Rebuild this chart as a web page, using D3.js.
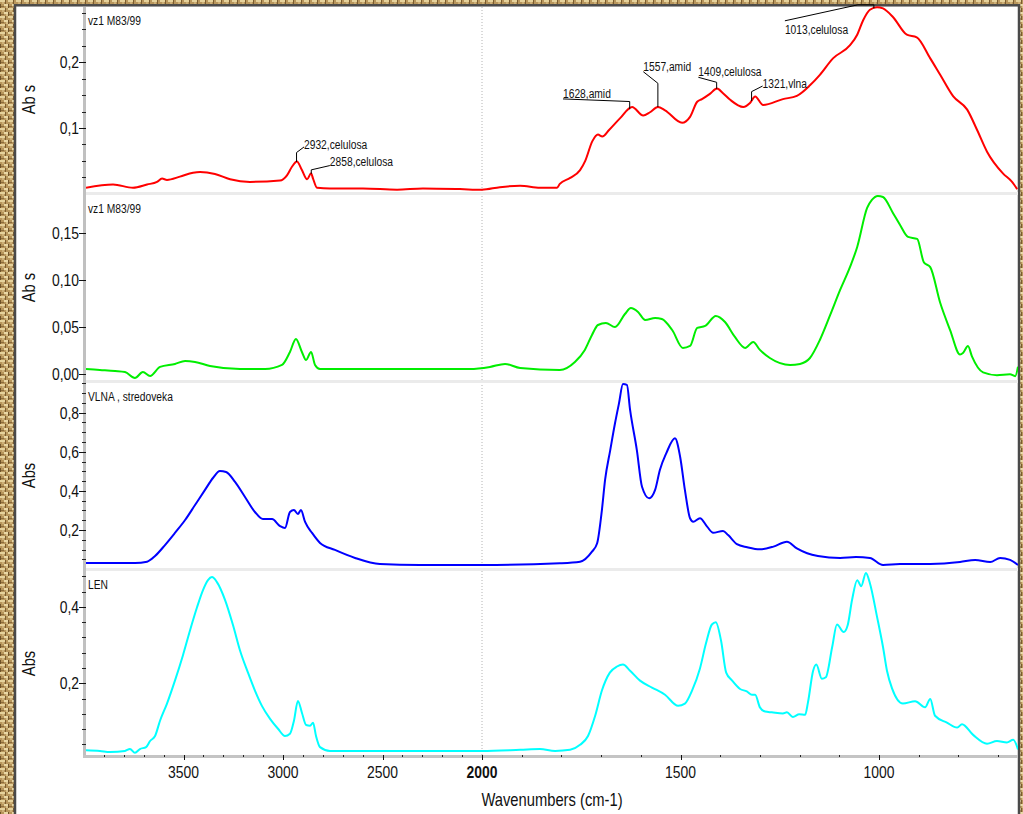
<!DOCTYPE html>
<html>
<head>
<meta charset="utf-8">
<script src="https://cdn.jsdelivr.net/npm/d3@7/dist/d3.min.js"></script>
<style>
  body { margin: 0; background: #fff; }
  svg text { font-family: "Liberation Sans", Arial, sans-serif; fill: #111; }
</style>
</head>
<body>
<svg id="chart" width="1023" height="814"></svg>
<script>
/* FTIR spectra, four stacked panels (OMNIC style, x axis split at 2000 cm-1) */

// panel titles and y-axis captions
const panelNames = ["vz1 M83/99", "vz1 M83/99", "VLNA , stredoveka", "LEN"];
const panelYLabels = ["Ab s", "Ab s", "Abs", "Abs"];

const yDomains = [[0.0026, 0.2842], [-0.0061, 0.1907], [0.0056, 0.952], [0.0097, 0.494]];
const yTickValues = [[0.1, 0.2], [0, 0.05, 0.10, 0.15], [0.2, 0.4, 0.6, 0.8], [0.2, 0.4]];
const yTickDigits = [1, 2, 1, 1];
const yMinorStep = [0.025, 0, 0.05, 0.04];

// x axis
const xMajorTicks = [3500, 3000, 2500, 2000, 1500, 1000];
const xTitle = "Wavenumbers (cm-1)";

// spectra: [wavenumber, absorbance]
const vz1Red = [
  [3990,0.009],[3854,0.014],[3754,0.009],[3683,0.014],[3633,0.018],[3608,0.023],[3583,0.021],
  [3518,0.026],[3452,0.032],[3417,0.033],[3342,0.030],[3266,0.022],[3166,0.018],[3015,0.020],
  [2980,0.028],[2955,0.041],[2930,0.049],[2905,0.036],[2879,0.022],[2859,0.031],[2849,0.023],
  [2829,0.009],[2764,0.008],[2598,0.008],[2427,0.006],[2297,0.008],[2111,0.007],[2000,0.006],
  [1955,0.010],[1904,0.012],[1854,0.009],[1811,0.009],[1804,0.015],[1778,0.024],[1753,0.036],
  [1740,0.050],[1722,0.080],[1708,0.090],[1697,0.087],[1680,0.097],[1652,0.115],[1622,0.132],
  [1594,0.119],[1577,0.124],[1557,0.132],[1539,0.127],[1496,0.108],[1476,0.117],[1458,0.140],
  [1446,0.144],[1426,0.152],[1408,0.160],[1393,0.153],[1375,0.143],[1342,0.132],[1325,0.138],
  [1312,0.148],[1292,0.135],[1242,0.144],[1207,0.149],[1174,0.165],[1149,0.181],[1116,0.206],
  [1073,0.226],[1055,0.242],[1040,0.264],[1023,0.280],[1005,0.284],[990,0.282],[965,0.269],
  [930,0.242],[905,0.238],[871,0.206],[846,0.181],[813,0.148],[778,0.128],[753,0.097],
  [728,0.064],[688,0.031],[665,0.018],[652,0.007]
];

const vz1Green = [
  [3990,0.0056],[3920,0.0046],[3844,0.0035],[3794,0.0024],[3744,-0.0039],[3704,0.0024],
  [3668,-0.0018],[3618,0.0078],[3543,0.011],[3492,0.0141],[3442,0.0131],[3367,0.0088],
  [3216,0.0056],[3090,0.0056],[3005,0.0099],[2965,0.0237],[2935,0.0376],[2905,0.0237],
  [2884,0.0152],[2859,0.0237],[2839,0.0099],[2814,0.0056],[2412,0.0056],[2060,0.0056],
  [1980,0.0078],[1942,0.011],[1904,0.0067],[1804,0.0046],[1766,0.0131],[1741,0.0259],
  [1723,0.0418],[1708,0.0524],[1688,0.0546],[1665,0.0503],[1640,0.0641],[1625,0.0705],
  [1607,0.0663],[1589,0.0578],[1564,0.0599],[1547,0.0588],[1521,0.0471],[1494,0.028],
  [1476,0.0301],[1458,0.0493],[1438,0.0514],[1411,0.062],[1388,0.0556],[1363,0.0397],
  [1337,0.028],[1317,0.0344],[1300,0.0259],[1275,0.0173],[1224,0.0099],[1199,0.011],
  [1174,0.0173],[1149,0.0365],[1123,0.0631],[1098,0.0897],[1073,0.1142],[1055,0.1354],
  [1030,0.1769],[1018,0.1854],[1003,0.1897],[990,0.1886],[965,0.1716],[947,0.1588],
  [927,0.1461],[904,0.144],[887,0.119],[871,0.114],[846,0.076],[821,0.047],[796,0.021],
  [788,0.023],[776,0.030],[766,0.019],[738,0.002],[703,-0.001],[670,0.000],[657,-0.002],
  [650,0.008]
];

const vlnaBlue = [
  [3990,0.031],[3744,0.031],[3683,0.038],[3643,0.067],[3593,0.123],[3543,0.185],[3492,0.251],
  [3442,0.328],[3392,0.405],[3352,0.466],[3317,0.502],[3286,0.497],[3241,0.446],[3191,0.369],
  [3141,0.292],[3101,0.256],[3055,0.256],[3015,0.220],[2990,0.210],[2965,0.292],[2945,0.302],
  [2925,0.282],[2910,0.302],[2889,0.241],[2854,0.185],[2814,0.134],[2739,0.098],[2638,0.057],
  [2513,0.026],[2312,0.021],[2000,0.021],[1804,0.030],[1753,0.038],[1723,0.089],[1710,0.132],
  [1698,0.302],[1690,0.456],[1677,0.609],[1665,0.746],[1655,0.848],[1645,0.947],[1635,0.942],
  [1627,0.814],[1610,0.609],[1597,0.421],[1579,0.362],[1564,0.405],[1552,0.507],[1536,0.592],
  [1514,0.669],[1501,0.575],[1489,0.405],[1476,0.260],[1468,0.242],[1451,0.260],[1433,0.217],
  [1418,0.186],[1393,0.195],[1380,0.174],[1358,0.128],[1332,0.112],[1300,0.101],[1266,0.115],
  [1232,0.140],[1207,0.106],[1181,0.081],[1154,0.067],[1098,0.057],[1058,0.062],[1023,0.057],
  [990,0.021],[947,0.026],[871,0.026],[796,0.036],[758,0.047],[720,0.036],[695,0.057],
  [670,0.047],[650,0.021]
];

const lenCyan = [
  [3990,0.025],[3920,0.023],[3869,0.020],[3794,0.023],[3769,0.028],[3744,0.018],[3719,0.028],
  [3688,0.033],[3668,0.049],[3643,0.062],[3618,0.102],[3583,0.147],[3543,0.207],[3503,0.273],
  [3467,0.339],[3432,0.399],[3402,0.444],[3377,0.470],[3357,0.478],[3332,0.465],[3291,0.418],
  [3251,0.352],[3216,0.286],[3176,0.228],[3141,0.181],[3106,0.141],[3065,0.107],[3025,0.081],
  [2990,0.062],[2965,0.068],[2945,0.102],[2925,0.154],[2905,0.123],[2884,0.091],[2864,0.089],
  [2849,0.097],[2834,0.062],[2814,0.033],[2764,0.023],[2613,0.023],[2412,0.023],[2161,0.023],
  [2000,0.023],[1904,0.026],[1854,0.028],[1816,0.023],[1778,0.026],[1753,0.039],[1733,0.062],
  [1715,0.115],[1698,0.181],[1678,0.228],[1660,0.244],[1645,0.249],[1627,0.233],[1602,0.207],
  [1572,0.189],[1539,0.170],[1506,0.141],[1489,0.147],[1471,0.181],[1451,0.239],[1436,0.304],
  [1421,0.354],[1411,0.360],[1398,0.312],[1385,0.228],[1370,0.207],[1350,0.185],[1333,0.179],
  [1320,0.170],[1312,0.170],[1300,0.137],[1287,0.126],[1270,0.124],[1242,0.121],[1232,0.124],
  [1217,0.112],[1201,0.119],[1186,0.118],[1179,0.150],[1166,0.233],[1158,0.249],[1144,0.212],
  [1134,0.216],[1118,0.295],[1106,0.354],[1089,0.334],[1079,0.352],[1068,0.418],[1055,0.470],
  [1045,0.454],[1033,0.489],[1023,0.462],[1005,0.374],[990,0.295],[980,0.233],[967,0.186],
  [940,0.147],[909,0.153],[884,0.137],[871,0.159],[859,0.115],[829,0.097],[803,0.084],
  [791,0.093],[763,0.065],[728,0.042],[703,0.049],[678,0.045],[662,0.052],[650,0.027]
];

// peak labels on the top spectrum
const peakWaves = [2932, 2858, 1628, 1557, 1409, 1321, 1013];
const peakTexts = ["2932,celulosa", "2858,celulosa", "1628,amid", "1557,amid", "1409,celulosa", "1321,vlna", "1013,celulosa"];

const series = [vz1Red, vz1Green, vlnaBlue, lenCyan];
const colors = ["#ff0000", "#00ee00", "#0000ff", "#00ffff"];

const svg = d3.select("#chart");
const defs = svg.append("defs");

// narrow face: the original uses a condensed sans, squeeze Liberation Sans
const NARROW = 0.82;
function place(sel, px, py, extra) {
  return sel.attr("transform", `translate(${px},${py})${extra || ""} scale(${NARROW},1)`);
}

// parchment / woven texture around the window
const pat = defs.append("pattern").attr("id", "weave")
  .attr("width", 8).attr("height", 8).attr("patternUnits", "userSpaceOnUse");
pat.append("rect").attr("width", 8).attr("height", 8).attr("fill", "#b8965c");
[[0,0,5,2,"#e6d29c"],[4,4,4,2,"#ead8a6"],[0,4,1,4,"#6f5228"],[5,0,1,4,"#7a5c30"],
 [2,2,2,2,"#cdb078"],[6,6,2,2,"#d8bf88"],[1,6,3,1,"#8c6c3c"]].forEach(r => {
  pat.append("rect").attr("x", r[0]).attr("y", r[1]).attr("width", r[2]).attr("height", r[3]).attr("fill", r[4]);
});
svg.append("rect").attr("width", 1023).attr("height", 814).attr("fill", "url(#weave)");
svg.append("rect")
  .attr("x", 15).attr("y", 5.3).attr("width", 1004).attr("height", 900)
  .attr("fill", "#fff").attr("stroke", "#4a4a4a").attr("stroke-width", 2.5);

// split wavenumber scale, compressed above 2000
const x = d3.scaleLinear().domain([4000, 2000, 650]).range([84, 482, 1018]);
const plotLeft = 86, plotRight = 1018;
const panelTops = [7, 195, 383, 571];
const panelHeight = 185;
const bottomAxisY = 755;

const comma = (v, n) => v.toFixed(n).replace(".", ",");

// dotted marker at 2000
svg.append("line")
  .attr("x1", x(2000)).attr("x2", x(2000))
  .attr("y1", panelTops[0]).attr("y2", bottomAxisY)
  .attr("stroke", "#b4b4b4").attr("stroke-dasharray", "1,2");

// y axis bar
svg.append("rect").attr("x", 83).attr("y", panelTops[0]).attr("width", 3)
  .attr("height", bottomAxisY + 3 - panelTops[0]).attr("fill", "#c0c0c0");

const yScales = [];

series.forEach((data, i) => {
  const top = panelTops[i], bottom = top + panelHeight;
  const y = d3.scaleLinear().domain(yDomains[i]).range([bottom, top]);
  yScales.push(y);

  defs.append("clipPath").attr("id", "clip" + i)
    .append("rect").attr("x", plotLeft).attr("y", top - 1)
    .attr("width", plotRight - plotLeft).attr("height", panelHeight + 1);

  const line = d3.line()
    .x(d => x(d[0]))
    .y(d => y(d[1]))
    .curve(d3.curveMonotoneX);

  svg.append("path")
    .datum(data)
    .attr("clip-path", "url(#clip" + i + ")")
    .attr("fill", "none")
    .attr("stroke", colors[i])
    .attr("stroke-width", 2)
    .attr("stroke-linejoin", "round")
    .attr("d", line);

  // separator band under the panel
  if (i < 3) {
    svg.append("rect").attr("x", plotLeft).attr("y", bottom).attr("width", plotRight - plotLeft)
      .attr("height", 3).attr("fill", "#ebebeb");
  }

  // minor ticks
  if (yMinorStep[i] > 0) {
    const step = yMinorStep[i];
    const minor = d3.range(Math.ceil(yDomains[i][0] / step) * step, yDomains[i][1], step)
      .filter(v => !yTickValues[i].some(t => Math.abs(t - v) < 1e-6));
    svg.append("g").selectAll("line").data(minor).join("line")
      .attr("x1", 82).attr("x2", 86)
      .attr("y1", d => Math.round(y(d)) + 0.5).attr("y2", d => Math.round(y(d)) + 0.5)
      .attr("stroke", "#222").attr("stroke-width", 1);
  }

  // major ticks + labels
  const g = svg.append("g");
  g.selectAll("line").data(yTickValues[i]).join("line")
    .attr("x1", 79).attr("x2", 86)
    .attr("y1", d => Math.round(y(d)) + 0.5).attr("y2", d => Math.round(y(d)) + 0.5)
    .attr("stroke", "#111").attr("stroke-width", 1);
  g.selectAll("text").data(yTickValues[i]).join("text")
    .each(function (d) { place(d3.select(this), 79, y(d) + 6); })
    .attr("text-anchor", "end")
    .style("font-size", "17px")
    .text(d => comma(d, yTickDigits[i]));

  // panel title
  place(svg.append("text"), 88, top + 18)
    .style("font-size", "12.5px").text(panelNames[i]);

  // y caption
  place(svg.append("text"), 35, top + panelHeight / 2, " rotate(-90)")
    .attr("text-anchor", "middle")
    .style("font-size", "18px")
    .text(panelYLabels[i]);
});

// bottom x axis
svg.append("rect").attr("x", plotLeft - 3).attr("y", bottomAxisY).attr("width", plotRight - plotLeft + 3)
  .attr("height", 3).attr("fill", "#c4c4c4");
const minorX = d3.range(3900, 650, -100).filter(w => !xMajorTicks.includes(w));
svg.append("g").selectAll("line").data(minorX).join("line")
  .attr("x1", d => Math.round(x(d)) + 0.5).attr("x2", d => Math.round(x(d)) + 0.5)
  .attr("y1", bottomAxisY).attr("y2", bottomAxisY + 2)
  .attr("stroke", "#222");
const xg = svg.append("g");
xg.selectAll("line").data(xMajorTicks).join("line")
  .attr("x1", d => Math.round(x(d)) + 0.5).attr("x2", d => Math.round(x(d)) + 0.5)
  .attr("y1", bottomAxisY).attr("y2", bottomAxisY + 5)
  .attr("stroke", "#111");
xg.selectAll("text").data(xMajorTicks).join("text")
  .each(function (d) { place(d3.select(this), x(d), 778); })
  .attr("text-anchor", "middle")
  .style("font-size", "17px")
  .style("font-weight", d => d === 2000 ? "bold" : "normal")
  .text(d => d);

place(svg.append("text"), (plotLeft + plotRight) / 2, 806)
  .attr("text-anchor", "middle").style("font-size", "18px").text(xTitle);

// peak annotations: leader path relative to the peak, then text offset
const leaderShapes = [
  { pts: [[0,0],[0,-9.4],[7.5,-15]], txt: [7.5,-13] },
  { pts: [[0,0],[0,-4],[18.6,-8.3]], txt: [18.6,-7.5] },
  { pts: [[0,0],[0,-7.7],[-66.7,-10.3]], txt: [-66.7,-11.5] },
  { pts: [[0,0],[0,-23.7],[-14.6,-35.3]], txt: [-14.6,-36] },
  { pts: [[0,0],[0,-6.6],[-18.3,-11.6]], txt: [-18.3,-12.5] },
  { pts: [[0,0],[0,-9.4],[11,-15]], txt: [11,-12.7] },
  { pts: [[0,0],[0,-3.5],[-16,-3.5],[-89,12.5]], txt: [-89,25.5] }
];

function absAt(data, w) {
  for (let k = 0; k < data.length - 1; k++) {
    const a = data[k], b = data[k + 1];
    if ((a[0] - w) * (b[0] - w) <= 0) {
      const t = (w - a[0]) / (b[0] - a[0]);
      return a[1] + t * (b[1] - a[1]);
    }
  }
  return data[0][1];
}

const annot = svg.append("g");
peakWaves.forEach((w, k) => {
  const px = x(w), py = yScales[0](absAt(vz1Red, w));
  const s = leaderShapes[k];
  annot.append("path")
    .attr("d", d3.line()(s.pts.map(p => [px + p[0], py + p[1]])))
    .attr("fill", "none").attr("stroke", "#000").attr("stroke-width", 1);
  place(annot.append("text"), px + s.txt[0], py + s.txt[1])
    .style("font-size", "12.5px")
    .text(peakTexts[k]);
});
</script>
</body>
</html>
